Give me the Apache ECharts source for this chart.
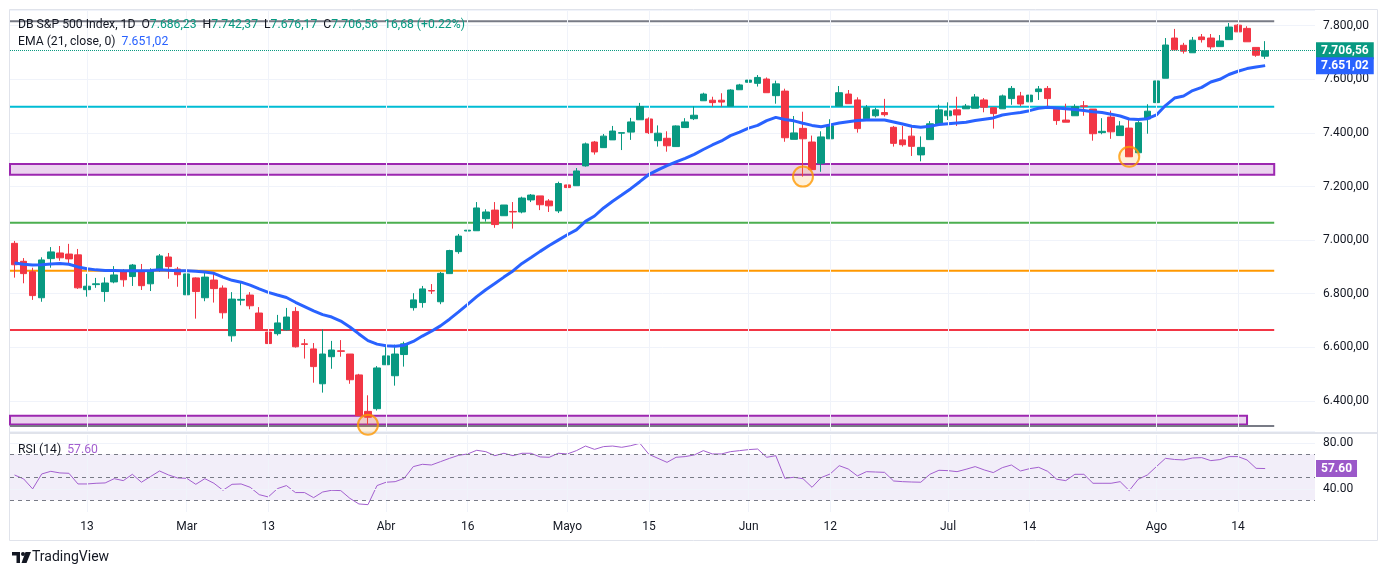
<!DOCTYPE html>
<html>
<head>
<meta charset="utf-8">
<title>DB S&amp;P 500 Index, 1D</title>
<script src="https://cdn.jsdelivr.net/npm/echarts@6/dist/echarts.min.js"></script>
<style>
  html, body { margin: 0; padding: 0; background: #fff; }
  #chart { width: 1388px; height: 575px; }
</style>
</head>
<body>
<div id="chart"></div>
<script>
// daily candles, 3 Feb - 19 Aug 2026 (Good Friday, Easter Monday and 1 May closed)
var startDate = '2026-02-03';
var holidays = ['2026-04-03', '2026-04-06', '2026-05-01'];
var candleCount = 139;
var emptySlots = 5;

var opens = [
  6988,6921,6882,6785,6931,6952,6948,6945,6815,6834,
  6808,6844,6882,6864,6882,6837,6889,6937,6892,6796,
  6859,6785,6851,6821,6643,6776,6795,6728,6657,6651,
  6665,6734,6613,6594,6464,6565,6587,6575,6497,6361,
  6371,6535,6494,6573,6748,6767,6812,6770,6875,6957,
  7034,7035,7080,7112,7091,7107,7105,7150,7165,7146,
  7109,7206,7203,7277,7366,7345,7374,7399,7403,7449,
  7452,7371,7380,7349,7420,7453,7520,7522,7522,7500,
  7561,7589,7585,7601,7539,7556,7376,7417,7366,7287,
  7378,7500,7545,7523,7453,7464,7476,7421,7374,7388,
  7318,7375,7431,7464,7486,7490,7492,7523,7494,7490,
  7528,7538,7516,7554,7566,7488,7448,7464,7501,7489,
  7401,7459,7390,7418,7326,7452,7513,7604,7754,7727,
  7699,7758,7754,7722,7748,7802,7790,7719,7686.23
];
var closes = [
  6908,6875,6793,6926,6956,6934,6930,6822,6828,6837,
  6840,6870,6852,6907,6830,6886,6941,6901,6871,6874,
  6808,6862,6819,6729,6780,6779,6755,6665,6614,6691,
  6713,6602,6611,6528,6575,6590,6585,6479,6345,6339,
  6523,6568,6575,6613,6777,6818,6810,6876,6961,7015,
  7037,7120,7105,7058,7131,7105,7157,7168,7132,7128,
  7211,7196,7258,7359,7329,7388,7407,7401,7441,7498,
  7401,7399,7352,7426,7441,7466,7545,7513,7515,7560,
  7579,7597,7607,7550,7583,7382,7400,7378,7263,7385,
  7427,7550,7509,7416,7494,7486,7468,7361,7356,7350,
  7346,7434,7486,7482,7467,7500,7534,7496,7472,7538,
  7566,7508,7541,7564,7528,7446,7440,7498,7499,7397,
  7406,7404,7426,7311,7438,7481,7594,7728,7710,7705,
  7746,7748,7721,7743,7795,7777,7740,7689.88,7706.56
];
var highs = [
  6997,6933,6897,6936,6974,6978,6986,6967,6874,6859,
  6861,6903,6892,6911,6911,6895,6948,6952,6900,6895,
  6861,6882,6881,6831,6806,6843,6806,6750,6724,6721,
  6747,6750,6631,6616,6667,6624,6627,6575,6501,6421,
  6530,6601,6610,6621,6802,6829,6836,6881,6964,7023,
  7044,7142,7115,7142,7131,7142,7162,7172,7165,7153,
  7218,7243,7269,7364,7370,7396,7426,7401,7456,7512,
  7458,7428,7406,7428,7455,7499,7550,7535,7548,7563,
  7583,7613,7616,7607,7595,7565,7463,7479,7390,7406,
  7451,7575,7560,7533,7504,7494,7527,7426,7426,7422,
  7387,7444,7505,7514,7535,7508,7545,7530,7494,7543,
  7575,7553,7553,7575,7575,7492,7509,7507,7519,7489,
  7455,7483,7444,7452,7444,7507,7604,7754,7788,7736,
  7758,7769,7769,7765,7810,7806,7798,7719,7742.37
];
var lows = [
  6860,6839,6777,6770,6897,6923,6908,6818,6789,6822,
  6770,6839,6826,6829,6814,6810,6882,6856,6826,6755,
  6707,6772,6767,6707,6621,6757,6742,6663,6612,6644,
  6663,6599,6558,6468,6431,6520,6565,6464,6345,6311,
  6364,6535,6457,6528,6737,6748,6799,6761,6875,6949,
  7005,7035,7069,7046,7091,7043,7100,7142,7112,7105,
  7101,7170,7203,7274,7319,7345,7374,7336,7374,7449,
  7396,7349,7330,7349,7420,7448,7520,7498,7498,7500,
  7561,7563,7573,7550,7509,7367,7376,7237,7263,7255,
  7378,7500,7509,7401,7453,7458,7461,7349,7349,7314,
  7294,7375,7431,7448,7426,7490,7492,7477,7416,7490,
  7505,7500,7504,7523,7498,7430,7440,7464,7464,7371,
  7395,7378,7390,7311,7326,7397,7513,7604,7710,7696,
  7699,7737,7712,7722,7748,7777,7740,7684,7676.17
];
// EMA(21) as drawn
var emas = [
  6915,6910,6907,6908,6911,6913,6910,6900,6893,6889,
  6887,6887,6886,6886,6886,6887,6889,6888,6886,6886,
  6884,6881,6876,6862,6850,6843,6832,6818,6805,6795,
  6786,6768,6752,6736,6722,6713,6698,6676,6650,6625,
  6612,6606,6604,6608,6622,6642,6660,6680,6705,6732,
  6760,6789,6815,6838,6862,6885,6913,6935,6958,6980,
  7000,7020,7038,7070,7090,7120,7145,7168,7192,7218,
  7245,7262,7278,7292,7305,7320,7338,7355,7370,7390,
  7403,7418,7428,7446,7458,7450,7445,7436,7428,7423,
  7430,7437,7442,7446,7448,7448,7448,7441,7433,7425,
  7421,7425,7431,7434,7437,7440,7446,7451,7456,7467,
  7472,7476,7483,7492,7496,7493,7490,7487,7484,7479,
  7476,7470,7463,7452,7450,7453,7467,7502,7530,7538,
  7558,7570,7590,7600,7618,7630,7640,7646,7651.02
];
// RSI(14)
var rsis = [
  52.0,48.6,39.9,52.9,55.2,53.8,53.5,44.2,44.2,44.8,
  45.1,48.8,47.1,52.6,45.7,50.6,55.5,52.0,49.4,49.1,
  43.9,48.8,44.8,38.7,43.9,44.2,41.3,34.9,32.9,40.1,
  42.8,36.7,36.7,32.3,37.2,38.7,38.4,31.7,26.8,26.2,
  42.8,45.7,46.2,49.1,59.3,61.3,60.7,63.6,66.5,69.1,
  70.3,73.5,72.3,68.8,70.9,68.8,70.9,70.9,67.7,67.4,
  70.9,70.3,73.2,77.2,74.3,76.7,77.2,76.1,77.5,79.6,
  70.0,66.5,63.0,67.4,68.0,69.4,73.2,70.3,70.3,72.3,
  73.2,74.1,74.6,67.4,68.8,49.1,50.0,48.8,41.3,49.7,
  52.9,60.1,57.2,51.2,54.9,54.6,54.3,46.8,46.2,45.9,
  45.7,52.6,56.1,55.8,54.9,57.0,59.3,56.4,54.1,58.4,
  60.7,55.5,57.5,58.7,55.2,48.3,47.1,52.6,52.6,44.8,
  44.8,44.8,46.2,38.4,48.3,52.0,59.3,66.5,65.5,65.1,
  66.8,67.1,64.5,65.4,68.0,68.0,65.1,57.8,57.60
];

var tickDates = ['2026-02-13','2026-03-02','2026-03-13','2026-04-01','2026-04-16','2026-05-04',
                 '2026-05-15','2026-06-01','2026-06-12','2026-07-01','2026-07-14','2026-08-03','2026-08-14'];
var tickLabels = ['13','Mar','13','Abr','16','Mayo','15','Jun','12','Jul','14','Ago','14'];

// drawn levels and zones
var levelPrices = [7817, 7498, 7065, 6886, 6665, 6306];
var levelColors = ['#787b86', '#00bcd4', '#4caf50', '#ff9800', '#f23645', '#787b86'];
var levelEnd = 139;
var zoneTops = [7284, 6345];
var zoneBottoms = [7244, 6312];
var zoneEnds = [139, 136];
var circleIdx = [39, 87, 123];

var priceMin = 6287.8, priceMax = 7858.6;
var rsiMin = 19.8, rsiMax = 86.8;

var UP = '#089981', DOWN = '#f23645', EMA_BLUE = '#2962ff', RSI_PURPLE = '#a35fcf';
var FONT = 'Roboto, "Noto Sans", sans-serif';
var HIDDEN = 'rgba(0,0,0,0)';

function buildDays(start, n, skip) {
  var out = [];
  var d = new Date(start + 'T00:00:00Z');
  while (out.length < n) {
    var wd = d.getUTCDay();
    var s = d.toISOString().slice(0, 10);
    if (wd !== 0 && wd !== 6 && skip.indexOf(s) < 0) out.push(s);
    d.setUTCDate(d.getUTCDate() + 1);
  }
  return out;
}

function fmtEs(v) {
  var parts = Math.abs(v).toFixed(2).split('.');
  return (v < 0 ? '-' : '') + parts[0].replace(/\B(?=(\d{3})+$)/g, '.') + ',' + parts[1];
}

function tag(text, bg) {
  return {
    show: true, position: 'end', distance: 1, formatter: text,
    backgroundColor: bg, color: '#fff', fontSize: 12, fontWeight: 'bold',
    fontFamily: FONT, padding: [3, 5, 2, 5]
  };
}

var days = buildDays(startDate, candleCount + emptySlots, holidays);
var last = candleCount - 1;
var lastClose = closes[last];
var lastEma = emas[last];
var lastRsi = rsis[last];
var change = closes[last] - closes[last - 1];
var pct = change / closes[last - 1] * 100;

var candles = opens.map(function (o, i) { return [o, closes[i], lows[i], highs[i]]; });

var series = [];

// vertical grid lines on both panes
[0, 1].forEach(function (g) {
  series.push({
    type: 'line', xAxisIndex: g, yAxisIndex: g, data: [], silent: true, z: 1,
    markLine: {
      symbol: 'none', silent: true, animation: false, label: { show: false },
      lineStyle: { color: '#f0f3fa', width: 1, type: 'solid' },
      data: tickDates.map(function (d) { return { xAxis: d }; })
    }
  });
});

// zones
series.push({
  type: 'line', xAxisIndex: 2, yAxisIndex: 0, data: [], silent: true, z: 2,
  markArea: {
    silent: true, animation: false,
    itemStyle: { color: 'rgba(156,39,176,0.2)', borderColor: '#9c27b0', borderWidth: 2 },
    data: zoneTops.map(function (t, i) {
      return [{ coord: [-0.5, t] }, { coord: [zoneEnds[i], zoneBottoms[i]] }];
    })
  }
});

// horizontal levels
levelPrices.forEach(function (p, i) {
  series.push({
    type: 'line', xAxisIndex: 2, yAxisIndex: 0, silent: true, z: 2,
    symbol: 'none', data: [[-0.5, p], [levelEnd, p]],
    lineStyle: { color: levelColors[i], width: 2 }
  });
});

series.push({
  name: 'DB S&P 500 Index', type: 'candlestick', xAxisIndex: 0, yAxisIndex: 0,
  data: candles, barWidth: 7, z: 3,
  itemStyle: { color: UP, color0: DOWN, borderColor: UP, borderColor0: DOWN, borderWidth: 1 },
  markLine: {
    symbol: 'none', silent: true, animation: false,
    lineStyle: { color: UP, type: 'dotted', width: 1 },
    label: tag(fmtEs(lastClose), UP),
    data: [{ yAxis: lastClose }]
  }
});

series.push({
  name: 'EMA', type: 'line', xAxisIndex: 0, yAxisIndex: 0, data: emas,
  symbol: 'none', z: 4, lineStyle: { color: EMA_BLUE, width: 3 },
  markLine: {
    symbol: 'none', silent: true, animation: false,
    lineStyle: { color: HIDDEN, width: 1 },
    label: tag(fmtEs(lastEma), EMA_BLUE),
    data: [{ yAxis: lastEma }]
  }
});

series.push({
  type: 'scatter', xAxisIndex: 0, yAxisIndex: 0, silent: true, z: 5,
  symbol: 'circle', symbolSize: 20,
  itemStyle: { color: 'rgba(255,152,0,0.18)', borderColor: '#ff9800', borderWidth: 2 },
  data: circleIdx.map(function (i) { return [i, lows[i]]; })
});

var dash = { color: '#787b86', width: 1, type: [4, 4] };
var faint = { color: '#f0f3fa', width: 1, type: 'solid' };
series.push({
  name: 'RSI', type: 'line', xAxisIndex: 1, yAxisIndex: 1, data: rsis,
  symbol: 'none', z: 3, lineStyle: { color: RSI_PURPLE, width: 1 },
  markArea: {
    silent: true, animation: false,
    itemStyle: { color: 'rgba(126,87,194,0.1)' },
    data: [[{ yAxis: 30 }, { yAxis: 70 }]]
  },
  markLine: {
    symbol: 'none', silent: true, animation: false, label: { show: false },
    data: [
      { yAxis: 80, lineStyle: faint },
      { yAxis: 40, lineStyle: faint },
      { yAxis: 70, lineStyle: dash },
      { yAxis: 50, lineStyle: dash },
      { yAxis: 30, lineStyle: dash },
      { yAxis: lastRsi, lineStyle: { color: HIDDEN, width: 1 }, label: tag(lastRsi.toFixed(2), '#9b59c9') }
    ]
  }
});

var option = {
  animation: false,
  backgroundColor: '#ffffff',
  textStyle: { fontFamily: FONT },
  grid: [
    { left: 10, top: 10, width: 1305, height: 421 },
    { left: 10, top: 435, width: 1305, height: 77 }
  ],
  xAxis: [
    {
      type: 'category', gridIndex: 0, data: days, boundaryGap: true,
      axisLine: { show: false }, axisTick: { show: false }, axisLabel: { show: false },
      splitLine: { show: false }
    },
    {
      type: 'category', gridIndex: 1, data: days, boundaryGap: true,
      axisLine: { show: false }, axisTick: { show: false }, splitLine: { show: false },
      axisLabel: {
        color: '#131722', fontSize: 12, margin: 9, fontFamily: FONT,
        interval: function (index, value) { return tickDates.indexOf(value) >= 0; },
        formatter: function (value) {
          var k = tickDates.indexOf(value);
          return k >= 0 ? tickLabels[k] : '';
        }
      }
    },
    { type: 'value', gridIndex: 0, min: -0.5, max: candleCount + emptySlots - 0.5, show: false }
  ],
  yAxis: [
    {
      type: 'value', gridIndex: 0, position: 'right', scale: true,
      min: priceMin, max: priceMax, splitNumber: 8,
      axisLine: { show: false }, axisTick: { show: false },
      splitLine: { lineStyle: { color: '#f0f3fa', width: 1 } },
      axisLabel: {
        color: '#131722', fontSize: 12, margin: 8, fontFamily: FONT,
        showMinLabel: false, showMaxLabel: false,
        formatter: function (v) { return Math.abs(v % 200) < 0.01 ? fmtEs(v) : ''; }
      }
    },
    {
      type: 'value', gridIndex: 1, position: 'right', min: rsiMin, max: rsiMax,
      axisLine: { show: false }, axisTick: { show: false }, splitLine: { show: false },
      axisLabel: {
        color: '#131722', fontSize: 12, margin: 8, fontFamily: FONT,
        showMinLabel: false, showMaxLabel: false,
        formatter: function (v) { return (v === 80 || v === 40) ? v.toFixed(2) : ''; }
      }
    }
  ],
  series: series,
  graphic: [
    {
      type: 'rect', silent: true, z: 0,
      shape: { x: 9.5, y: 9.5, width: 1368, height: 531 },
      style: { fill: 'none', stroke: '#e0e3eb', lineWidth: 1 }
    },
    {
      type: 'line', silent: true, z: 0,
      shape: { x1: 9.5, y1: 433, x2: 1377.5, y2: 433 },
      style: { stroke: '#e0e3eb', lineWidth: 2 }
    },
    {
      type: 'text', left: 18, top: 19, silent: true, z: 10,
      style: {
        text: '{k|DB S&P 500 Index, 1D  O}{g|' + fmtEs(opens[last]) + '}{k|  H}{g|' + fmtEs(highs[last]) +
              '}{k|  L}{g|' + fmtEs(lows[last]) + '}{k|  C}{g|' + fmtEs(closes[last]) + '}{g|  ' +
              fmtEs(change) + ' (' + (change >= 0 ? '+' : '') + pct.toFixed(2) + '%)}',
        rich: {
          k: { fill: '#131722', fontSize: 12.2, fontFamily: FONT },
          g: { fill: change >= 0 ? UP : DOWN, fontSize: 12.2, fontFamily: FONT }
        }
      }
    },
    {
      type: 'text', left: 18, top: 36, silent: true, z: 10,
      style: {
        text: '{k|EMA (21, close, 0)  }{b|' + fmtEs(lastEma) + '}',
        rich: {
          k: { fill: '#131722', fontSize: 12.2, fontFamily: FONT },
          b: { fill: EMA_BLUE, fontSize: 12.2, fontFamily: FONT }
        }
      }
    },
    {
      type: 'text', left: 18, top: 444, silent: true, z: 10,
      style: {
        text: '{k|RSI (14)  }{p|' + lastRsi.toFixed(2) + '}',
        rich: {
          k: { fill: '#131722', fontSize: 12.2, fontFamily: FONT },
          p: { fill: RSI_PURPLE, fontSize: 12.2, fontFamily: FONT }
        }
      }
    },
    {
      type: 'group', left: 12, top: 550, silent: true,
      children: [
        { type: 'rect', shape: { x: 0, y: 0, width: 8, height: 3.5 }, style: { fill: '#131722' } },
        { type: 'rect', shape: { x: 4.5, y: 0, width: 3.5, height: 11 }, style: { fill: '#131722' } },
        { type: 'circle', shape: { cx: 11, cy: 2, r: 2 }, style: { fill: '#131722' } },
        { type: 'polygon', shape: { points: [[13.5, 0], [19, 0], [14.5, 11], [9.5, 11]] }, style: { fill: '#131722' } },
        {
          type: 'text', left: 20, top: -2,
          style: { text: 'TradingView', fill: '#131722', fontSize: 14, fontFamily: FONT }
        }
      ]
    }
  ]
};

var chart = echarts.init(document.getElementById('chart'));
chart.setOption(option);
</script>
</body>
</html>
